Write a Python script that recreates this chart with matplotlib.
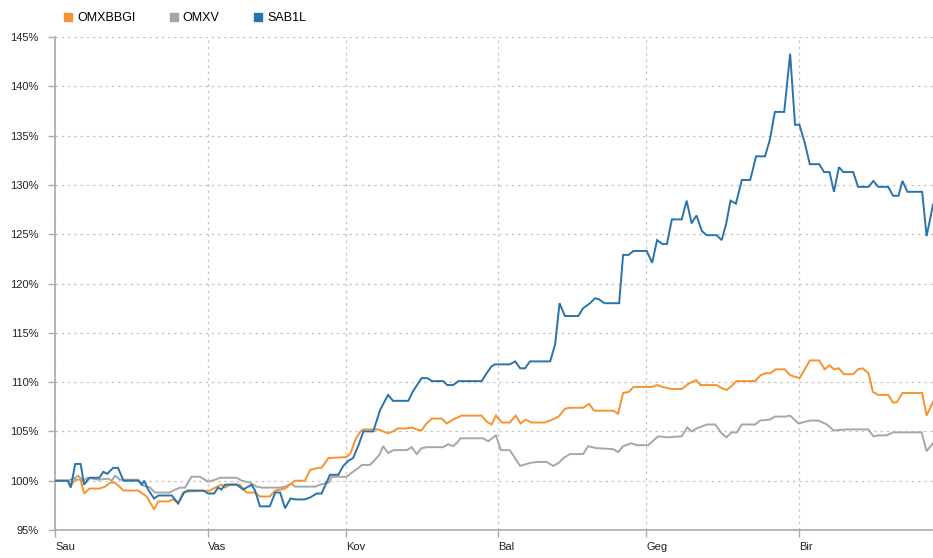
import numpy as np
import matplotlib.pyplot as plt
from matplotlib.lines import Line2D
import matplotlib.transforms as mtransforms

plt.rcParams["font.family"] = ["Liberation Sans", "DejaVu Sans"]

# x = days since 1 Jan, y = value relative to start (%)
month_days = [0, 31, 59, 90, 120, 151]
month_labels = ["Sau", "Vas", "Kov", "Bal", "Geg", "Bir"]

sab_days = [0, 2.6, 3.2, 4.1, 5.2, 5.9, 7.0, 9.0, 9.8, 10.6, 11.8, 12.8, 13.9, 16.9, 17.6, 18.1,
            18.9, 20.1, 21.0, 23.7, 25.0, 26.2, 26.9, 30.1, 31.1, 32.3, 33.1, 33.8, 34.5, 36.9,
            38.2, 39.9, 40.6, 41.6, 43.6, 44.7, 45.7, 46.7, 47.8, 48.7, 50.7, 51.8, 53.1, 54.1,
            55.8, 57.5, 58.5, 59.5, 60.5, 61.6, 62.6, 64.6, 66.0, 67.6, 68.6, 71.7, 72.7, 74.4,
            75.6, 76.5, 78.8, 79.6, 80.8, 81.9, 86.6, 87.6, 88.6, 89.3, 92.3, 93.4, 94.4, 95.4,
            96.4, 100.5, 101.5, 102.4, 103.5, 106.2, 107.2, 108.6, 109.6, 110.4, 111.5, 114.5,
            115.3, 116.4, 117.4, 120.1, 121.2, 122.2, 123.3, 124.2, 125.2, 127.2, 128.2, 129.2,
            130.2, 131.3, 132.3, 134.3, 135.3, 136.2, 137.1, 138.2, 139.4, 141.1, 142.3, 144.1,
            145.1, 146.1, 148.0, 149.2, 150.2, 151.1, 152.2, 153.2, 155.1, 156.1, 157.2, 158.1,
            159.1, 160.0, 162.0, 163.0, 165.1, 166.1, 167.1, 169.1, 170.1, 171.2, 172.0, 173.0,
            176.0, 176.9, 178.2]
sab_vals = [100, 100, 99.3, 101.7, 101.7, 99.6, 100.3, 100.3, 100.9, 100.7, 101.3, 101.3, 100.0,
            100.0, 99.6, 100.0, 99.1, 98.2, 98.5, 98.5, 97.7, 98.8, 99.0, 99.0, 98.7, 98.7, 99.3,
            99.1, 99.6, 99.6, 99.1, 99.6, 99.0, 97.4, 97.4, 98.8, 98.8, 97.2, 98.2, 98.1, 98.1,
            98.3, 98.7, 98.7, 100.6, 100.6, 101.5, 102.0, 102.3, 103.6, 105.0, 105.0, 107.2, 108.7,
            108.1, 108.1, 109.1, 110.4, 110.4, 110.1, 110.1, 109.7, 109.7, 110.1, 110.1, 110.9,
            111.6, 111.8, 111.8, 112.1, 111.4, 111.4, 112.1, 112.1, 113.8, 118.0, 116.7, 116.7,
            117.5, 118.0, 118.5, 118.4, 118.0, 118.0, 122.9, 122.9, 123.3, 123.3, 122.1, 124.4,
            124.0, 124.0, 126.5, 126.5, 128.4, 126.1, 126.9, 125.3, 124.9, 124.9, 124.4, 126.0,
            128.4, 128.1, 130.5, 130.5, 132.9, 132.9, 134.6, 137.4, 137.4, 143.3, 136.1, 136.1,
            134.2, 132.1, 132.1, 131.3, 131.3, 129.3, 131.8, 131.3, 131.3, 129.8, 129.8, 130.4,
            129.8, 129.8, 128.9, 128.9, 130.4, 129.3, 129.3, 124.8, 128.0]

omxbbgi_days = [0, 2.6, 3.2, 4.1, 5.2, 5.9, 7.0, 9.0, 10.2, 11.2, 12.2, 13.9, 16.9, 18.6, 20.1,
                21.0, 23.0, 24.0, 25.0, 26.0, 26.9, 31.4, 32.5, 33.8, 34.5, 35.5, 37.5, 38.9,
                40.6, 41.6, 43.6, 44.7, 46.7, 47.7, 48.7, 50.7, 51.8, 53.4, 54.1, 55.5, 59.2,
                60.0, 61.0, 62.0, 62.6, 65.6, 67.6, 68.6, 69.6, 71.4, 72.4, 73.4, 74.4, 75.4,
                76.5, 78.5, 79.5, 80.8, 82.5, 86.6, 87.6, 88.6, 89.5, 90.7, 92.3, 93.5, 94.5,
                95.5, 96.7, 99.4, 100.5, 102.2, 103.5, 104.5, 107.2, 108.4, 109.4, 113.3, 114.3,
                115.3, 116.4, 117.4, 121.1, 122.2, 123.3, 125.2, 127.2, 128.5, 130.1, 131.0,
                134.3, 135.3, 136.3, 137.3, 138.3, 142.1, 143.2, 144.3, 145.2, 146.3, 148.1,
                149.2, 151.1, 152.2, 153.2, 155.1, 156.2, 157.2, 158.1, 159.1, 160.1, 162.0,
                163.0, 163.9, 165.1, 166.0, 167.1, 169.1, 170.1, 170.9, 172.0, 176.0, 176.9, 178.2]
omxbbgi_vals = [100, 100, 99.5, 100.1, 100.1, 98.7, 99.2, 99.2, 99.4, 99.8, 99.8, 99.0, 99.0,
                98.4, 97.1, 97.9, 97.9, 98.1, 97.7, 98.8, 98.9, 99.0, 99.3, 99.6, 99.3, 99.6,
                99.6, 98.8, 98.8, 98.4, 98.4, 99.0, 99.2, 99.6, 100.0, 100.0, 101.1, 101.3, 101.3,
                102.3, 102.4, 102.8, 104.2, 105.0, 105.2, 105.2, 104.8, 105.0, 105.3, 105.3,
                105.4, 105.2, 105.1, 105.8, 106.3, 106.3, 105.8, 106.2, 106.6, 106.6, 106.0,
                105.7, 106.6, 105.9, 105.9, 106.6, 105.8, 106.2, 105.9, 105.9, 106.1, 106.5,
                107.3, 107.4, 107.4, 107.8, 107.1, 107.1, 106.8, 108.9, 109.0, 109.5, 109.5,
                109.7, 109.5, 109.3, 109.3, 109.8, 110.2, 109.7, 109.7, 109.4, 109.2, 109.6,
                110.1, 110.1, 110.7, 110.9, 110.9, 111.3, 111.3, 110.7, 110.4, 111.3, 112.2,
                112.2, 111.3, 111.7, 111.3, 111.4, 110.8, 110.8, 111.3, 111.4, 110.9, 109.0,
                108.7, 108.7, 107.9, 108.0, 108.9, 108.9, 106.6, 108.0]

omxv_days = [0, 2.6, 4.1, 4.7, 5.7, 6.6, 8.8, 10.8, 11.5, 12.2, 13.2, 16.9, 17.9, 19.3, 20.3,
             21.7, 23.3, 24.4, 25.4, 26.4, 27.7, 29.4, 30.4, 31.1, 32.5, 33.5, 36.9, 37.9, 39.6,
             40.9, 42.0, 45.7, 46.7, 48.0, 48.7, 52.8, 53.8, 55.5, 56.2, 59.2, 60.2, 61.6, 62.3,
             63.9, 64.9, 65.8, 66.6, 67.6, 68.7, 71.4, 72.4, 73.4, 74.4, 75.4, 78.8, 79.8, 80.8,
             81.7, 82.3, 86.9, 87.9, 89.5, 90.5, 92.3, 94.4, 96.4, 97.8, 99.8, 101.1, 102.2,
             103.2, 104.5, 107.2, 108.2, 109.9, 113.3, 114.3, 115.3, 117.0, 118.0, 120.4, 122.4,
             124.2, 127.2, 128.3, 129.2, 130.2, 132.3, 134.0, 135.3, 136.3, 137.3, 138.4, 139.4,
             142.1, 143.1, 145.1, 146.1, 148.2, 149.2, 150.9, 153.2, 154.9, 156.7, 158.0, 160.7,
             165.1, 166.1, 167.1, 168.8, 170.1, 175.9, 176.9, 178.2]
omxv_vals = [100, 100, 100.3, 100.5, 100.0, 100.3, 100.1, 100.2, 100.0, 100.5, 100.1, 100.1,
             99.5, 99.3, 98.8, 98.8, 98.8, 99.1, 99.3, 99.3, 100.4, 100.4, 100.1, 99.9, 100.1,
             100.3, 100.3, 100.0, 99.8, 99.4, 99.3, 99.3, 99.4, 99.7, 99.4, 99.4, 99.6, 99.8,
             100.4, 100.4, 100.8, 101.3, 101.6, 101.6, 102.1, 102.6, 103.5, 102.8, 103.1, 103.1,
             103.4, 102.7, 103.3, 103.4, 103.4, 103.7, 103.5, 103.9, 104.3, 104.3, 104.0, 104.6,
             103.1, 103.1, 101.5, 101.8, 101.9, 101.9, 101.5, 101.8, 102.3, 102.7, 102.7, 103.5,
             103.3, 103.2, 102.9, 103.5, 103.8, 103.6, 103.6, 104.5, 104.4, 104.5, 105.4, 105.0,
             105.3, 105.7, 105.7, 104.8, 104.4, 104.9, 104.9, 105.7, 105.7, 106.1, 106.2, 106.5,
             106.5, 106.6, 105.8, 106.1, 106.1, 105.7, 105.1, 105.2, 105.2, 104.5, 104.6, 104.6,
             104.9, 104.9, 103.0, 103.8]

series = [
    ("OMXBBGI", omxbbgi_days, omxbbgi_vals, "#f7932e"),
    ("OMXV", omxv_days, omxv_vals, "#a6a6a6"),
    ("SAB1L", sab_days, sab_vals, "#2774ad"),
]

fig = plt.figure(figsize=(9.33, 5.58), dpi=100)
ax = fig.add_axes([55 / 933, 28 / 558, 878 / 933, 493 / 558])

for name, d, v, c in [series[1], series[0], series[2]]:
    ax.plot(d, v, color=c, lw=1.4, solid_joinstyle="miter", zorder=3)

ax.set_xlim(0, 178.2)
ax.set_ylim(95, 145)
ax.set_yticks(np.arange(95, 146, 5))
ax.set_yticklabels([f"{t}%" for t in range(95, 146, 5)])
ax.set_xticks(month_days)
ax.set_xticklabels(month_labels, ha="left")
offset = mtransforms.ScaledTranslation(-4 / 100, 0, fig.dpi_scale_trans)
for lab in ax.get_xticklabels():
    lab.set_transform(lab.get_transform() + offset)

for s in ["top", "right"]:
    ax.spines[s].set_visible(False)
for s in ["left", "bottom"]:
    ax.spines[s].set_color("#aaaaaa")
    ax.spines[s].set_linewidth(1.2)
ax.tick_params(axis="both", colors="#aaaaaa", length=5, width=1, labelcolor="#222222",
               labelsize=8)
ax.tick_params(axis="y", pad=7)
ax.tick_params(axis="x", pad=4)
ax.grid(True, color="#c4c4c4", linestyle=(0, (2, 3)), linewidth=0.9)
ax.set_axisbelow(True)

handles = [Line2D([], [], marker="s", linestyle="none", color=c, markersize=6) for _, _, _, c in series]
fig.legend(handles, [s[0] for s in series], loc="center left", bbox_to_anchor=(57 / 933, 1 - 18 / 558),
           ncol=3, frameon=False, fontsize=9, handletextpad=0.2, columnspacing=2.6,
           borderaxespad=0, handlelength=1.0)

fig.savefig("out.png", dpi=100)
